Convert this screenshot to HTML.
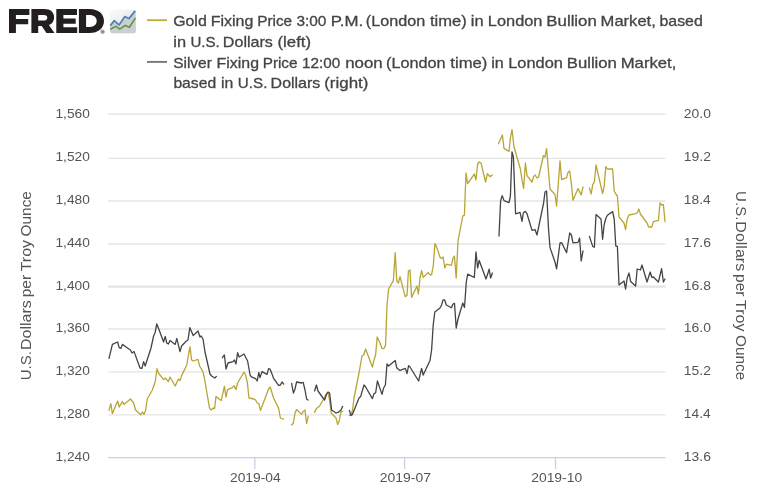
<!DOCTYPE html>
<html><head><meta charset="utf-8"><title>FRED Graph</title>
<style>
html,body{margin:0;padding:0;background:#fff;}
body{width:765px;height:497px;overflow:hidden;font-family:"Liberation Sans",sans-serif;}
svg{display:block;will-change:transform;}
svg text{font-family:"Liberation Sans",sans-serif;}
.tick{font-size:13.5px;fill:#555;}
.ttl{font-size:15px;fill:#555;}
.leg{font-size:15px;fill:#444;stroke:#444;stroke-width:0.3px;}
</style></head><body>
<svg width="765" height="497" viewBox="0 0 765 497">
<defs>
<linearGradient id="ig" x1="0" y1="0" x2="1" y2="1"><stop offset="0" stop-color="#fbfbfb"/><stop offset="0.6" stop-color="#e9e9ec"/><stop offset="1" stop-color="#d6d7dc"/></linearGradient>
</defs>
<rect width="765" height="497" fill="#fff"/>

<line x1="108.2" x2="665.5" y1="114.0" y2="114.0" stroke="#e4e4e4" stroke-width="1.7"/>
<line x1="108.2" x2="665.5" y1="158.3" y2="158.3" stroke="#e4e4e4" stroke-width="1.3"/>
<line x1="108.2" x2="665.5" y1="201.0" y2="201.0" stroke="#e4e4e4" stroke-width="1.5"/>
<line x1="108.2" x2="665.5" y1="244.0" y2="244.0" stroke="#e4e4e4" stroke-width="1.5"/>
<line x1="108.2" x2="665.5" y1="286.55" y2="286.55" stroke="#e4e4e4" stroke-width="2.2"/>
<line x1="108.2" x2="665.5" y1="329.0" y2="329.0" stroke="#e4e4e4" stroke-width="1.6"/>
<line x1="108.2" x2="665.5" y1="371.9" y2="371.9" stroke="#e4e4e4" stroke-width="1.35"/>
<line x1="108.2" x2="665.5" y1="414.9" y2="414.9" stroke="#e4e4e4" stroke-width="1.35"/>
<line x1="108.2" x2="665.5" y1="457.6" y2="457.6" stroke="#c6d2ea" stroke-width="1.3"/>
<line x1="254.8" x2="254.8" y1="457.6" y2="469" stroke="#c6d2ea" stroke-width="1.3"/>
<line x1="404.6" x2="404.6" y1="457.6" y2="469" stroke="#c6d2ea" stroke-width="1.3"/>
<line x1="555.5" x2="555.5" y1="457.6" y2="469" stroke="#c6d2ea" stroke-width="1.3"/>
<text class="tick" x="55.48" y="118.3" textLength="34.37" lengthAdjust="spacingAndGlyphs">1,560</text>
<text class="tick" x="683.89" y="118.3" textLength="27.06" lengthAdjust="spacingAndGlyphs">20.0</text>
<text class="tick" x="55.48" y="161.1" textLength="34.37" lengthAdjust="spacingAndGlyphs">1,520</text>
<text class="tick" x="683.87" y="161.1" textLength="27.08" lengthAdjust="spacingAndGlyphs">19.2</text>
<text class="tick" x="55.48" y="203.9" textLength="34.37" lengthAdjust="spacingAndGlyphs">1,480</text>
<text class="tick" x="683.88" y="203.9" textLength="26.81" lengthAdjust="spacingAndGlyphs">18.4</text>
<text class="tick" x="55.48" y="246.7" textLength="34.37" lengthAdjust="spacingAndGlyphs">1,440</text>
<text class="tick" x="683.87" y="246.7" textLength="27.08" lengthAdjust="spacingAndGlyphs">17.6</text>
<text class="tick" x="55.48" y="289.5" textLength="34.37" lengthAdjust="spacingAndGlyphs">1,400</text>
<text class="tick" x="683.87" y="289.5" textLength="27.08" lengthAdjust="spacingAndGlyphs">16.8</text>
<text class="tick" x="55.48" y="332.3" textLength="34.37" lengthAdjust="spacingAndGlyphs">1,360</text>
<text class="tick" x="683.87" y="332.3" textLength="27.08" lengthAdjust="spacingAndGlyphs">16.0</text>
<text class="tick" x="55.48" y="375.1" textLength="34.37" lengthAdjust="spacingAndGlyphs">1,320</text>
<text class="tick" x="683.87" y="375.1" textLength="27.08" lengthAdjust="spacingAndGlyphs">15.2</text>
<text class="tick" x="55.48" y="417.9" textLength="34.37" lengthAdjust="spacingAndGlyphs">1,280</text>
<text class="tick" x="683.88" y="417.9" textLength="26.81" lengthAdjust="spacingAndGlyphs">14.4</text>
<text class="tick" x="55.48" y="460.7" textLength="34.37" lengthAdjust="spacingAndGlyphs">1,240</text>
<text class="tick" x="683.87" y="460.7" textLength="27.08" lengthAdjust="spacingAndGlyphs">13.6</text>
<text class="tick" x="229.99" y="481.6" textLength="50.72" lengthAdjust="spacingAndGlyphs">2019-04</text>
<text class="tick" x="379.88" y="481.6" textLength="51.08" lengthAdjust="spacingAndGlyphs">2019-07</text>
<text class="tick" x="531.19" y="481.6" textLength="50.98" lengthAdjust="spacingAndGlyphs">2019-10</text>
<g transform="translate(30.6 379.4) rotate(-90)"><text class="ttl" x="-0.90" y="0" textLength="29.24" lengthAdjust="spacingAndGlyphs">U.S.</text><text class="ttl" x="29.37" y="0" textLength="49.80" lengthAdjust="spacingAndGlyphs">Dollars</text><text class="ttl" x="82.07" y="0" textLength="22.43" lengthAdjust="spacingAndGlyphs">per</text><text class="ttl" x="108.14" y="0" textLength="31.22" lengthAdjust="spacingAndGlyphs">Troy</text><text class="ttl" x="143.03" y="0" textLength="45.29" lengthAdjust="spacingAndGlyphs">Ounce</text></g>
<g transform="translate(735.8 192) rotate(90)"><text class="ttl" x="-0.90" y="0" textLength="29.24" lengthAdjust="spacingAndGlyphs">U.S.</text><text class="ttl" x="29.37" y="0" textLength="49.80" lengthAdjust="spacingAndGlyphs">Dollars</text><text class="ttl" x="82.07" y="0" textLength="22.43" lengthAdjust="spacingAndGlyphs">per</text><text class="ttl" x="108.14" y="0" textLength="31.22" lengthAdjust="spacingAndGlyphs">Troy</text><text class="ttl" x="143.03" y="0" textLength="45.29" lengthAdjust="spacingAndGlyphs">Ounce</text></g>
<path d="M109 410.4 L110.8 403.6 L112.4 413.6 L117.6 401 L119.2 407 L122.4 401.6 L124 404.4 L130.4 399 L133.6 403 L135.6 410 L140.8 414.8 L142.4 412 L144 414.4 L145.6 410.4 L147.2 399 L152.4 390 L154 385 L155.4 381 L157 368.6 L158.4 373 L163.6 379.6 L165.2 378 L168.4 381.6 L170 377 L175.2 386 L178.4 379 L180 380.6 L181.6 375.6 L186.8 365 L188.4 355 L190 347 L191.6 360 L193.2 361 L198 359.4 L199.6 366 L203 372 L204.4 378 L209.6 408.4 L211.2 410 L213.2 408 L214.6 408.6 L216 396.4 L221.2 400.6 L224.4 386.4 L226 397 L227.6 389.6 L232.4 387.6 L234 385.6 L236 389.6 L237.6 383 L244 372 L245.6 375 L247.4 383 L249 398 L254 399 L255.6 400 L257.2 403 L258.8 403.6 L260.4 410.4 L268.6 389 L270.2 387 L273.6 398 L278.6 408.4 L280.4 418 L283.6 419 M291.6 425 L293.4 423 L295 413 L296.6 409.6 L301.6 414.4 L303.2 411.4 L305 410 L306.6 423.6 L308.2 416.4 M314.6 412.4 L316.4 408.6 L319.6 406 L323 400 L326.2 394 L328 392.4 L329.6 400 L331.2 413 L336 418 L337.6 424.4 L339.2 421 L341 411.6 L342.6 411.4 M349.4 415.4 L351 415 L352.6 410 L354 398 L359 373 L362 356 L363.6 355 L365.6 349 L372.4 367 L374 360 L375.6 355 L377.2 337 L380 343 L382 348.4 L384 348.6 L385.6 345 L387 305 L388.6 289 L393.4 280.6 L395.2 252.6 L396.8 281 L398.4 283 L400 276.6 L405.2 296.6 L407 295.4 L408.4 271 L410 270 L411.6 297.4 L417 286 L418.4 294 L420 278 L421.6 270.6 L423.2 277.4 L428.4 272.5 L430 275 L431.6 274.6 L433.3 265.5 L434.9 243.6 L436.4 246.4 L440.2 257.5 L441.6 258.4 L443.1 257 L444.8 268 L446.4 264.2 L451.4 265.4 L453 258 L454.4 256 L456.2 278 L458 241 L462.8 216 L464.4 215.2 L466 173 L467.6 183.6 L474.4 174 L476 180 L477.6 164 L479.2 162 L481 163 L485.6 182 L487.4 173.6 L489 175.6 L490.4 176.6 L492.4 175 M498.6 143.6 L502.4 135 L504 148.4 L509 151.4 L510.4 138 L512 129.6 L514 147 L520.4 169 L522 180 L523.6 188.4 L525.4 163 L527 175.6 L532 182 L533.6 176.6 L535.2 175 L537 178 L538.6 177 L543.4 155.6 L545 157 L546.6 148.6 L550 189 L555 194.5 L556.6 206.2 L560 160.8 L561.6 179.6 L566.6 177.6 L568 172.4 L569.7 171 L571.4 184 L573 200.2 L578 188.6 L581.2 195 L583 187 M589.4 188 L591.2 194 L592.8 184.4 L594.4 182 L596 165 L602.6 193.6 L604.2 186 L605.8 166.6 L607.4 169 L612.6 169 L614.2 191 L615.8 194 L617.4 196 L619 217 L624 223 L625.6 229.6 L627.2 219 L629 215 L635.6 213.6 L637.2 213 L638.8 209 L640.4 214 L647 223 L648.6 227 L651.8 227 L653.4 221.6 L658.4 220.4 L660 203 L661.6 205 L663.4 204.6 L665 221.6" fill="none" stroke="#b8a535" stroke-width="1.3" stroke-linejoin="round" stroke-linecap="round"/>
<path d="M109 358.4 L112.4 344.4 L117.6 342 L119.2 347.6 L120.8 348.4 L122.4 344.4 L126 347 L130.4 350 L132 353 L134 351.4 L140 368 L142 368.4 L143.6 361.6 L145.2 366 L151 348 L153.6 336 L155 333 L156.8 324 L158.4 328 L163.6 342 L165.2 336.4 L166.8 343 L168.4 344 L170 340.4 L175.2 344.4 L176.8 338.4 L180 351.6 L181.6 346 L186.4 341 L188 340 L189.8 327.6 L193.2 335.6 L198 331 L200 337 L201.2 336 L203 339 L205 352 L210 374 L211.6 376 L214.8 378 L216.4 376.4 M222.4 357.6 L224.4 355 L226 369 L228 363 L233 361.6 L234.4 360 L236 364 L237.6 352.6 L239.2 357 L244 354 L247.6 361 L250.2 375.5 L252 377.2 L255.6 378.6 L257.2 381 L258.8 372.4 L260 377.6 L262 371.6 L267 374.4 L268.6 368.6 L270 369 L272 374 L273.6 378.4 L278.6 385.4 L280.4 385 L282 382 L283.6 384 M291.6 383.4 L293.4 393 L295 389 L296.6 382 L301.6 383 L303.2 382.4 L305 390 L306.6 399 L308 400 M314.6 391 L316.4 385 L318 391 L323 398 L324.6 400 L326.6 394 L328 392 L329.6 393 L331.6 410 L336 413 L338 412.4 L341 410 L342.6 406.4 M349.4 410.4 L351 415.6 L352.4 414.4 L359 398 L360.6 396.6 L364 385 L365.6 387 L372.4 398.6 L374 393.6 L375.6 393 L377.4 381 L382 394.4 L383.6 388 L385.4 385 L387 364 L388.6 366 L395.2 360.4 L396.8 368 L400 370.4 L405.4 368.4 L407 373.6 L408.6 365.6 L410 367 L418.6 381 L421.6 368.4 L423.2 375 L430 360.4 L431.6 350 L433.2 325 L434.8 312 L440 308 L441.6 305 L443 299.8 L444.6 299.8 L446.3 305 L451.4 307.8 L453 304 L454.5 303.2 L456.2 328 L458 319 L462.8 303 L464.5 307.5 L466.3 282 L467.7 274.2 L474.3 277.5 L476 252 L477.6 268 L479.2 260.5 L486 279 L489.2 269.2 L490.6 278 L492.4 273 M499 236 L500.6 201 L502.2 195.6 L504 200.6 L509 202.6 L510.4 196 L512 152 L513.4 157 L515.6 213.8 L520 212.3 L522 221.4 L523.4 212.7 L525.4 211.4 L527 213.8 L532 230.4 L535 229.6 L537 235 L543.6 203 L545 192 L546.6 191 L548.4 227 L550 247.6 L555 262 L556.6 268.8 L560 243 L561.6 242.6 L566.6 252.7 L569.7 233 L571.4 235 L573 242.8 L578 242.4 L579.6 238 L581.2 261 L583 251 M589.4 236.4 L592.8 246.6 L594.4 247 L596 214.6 L601 219 L602.6 239.3 L604.2 224.5 L605.8 218.5 L607.4 215.3 L612.6 211.6 L614.2 219 L615.8 246 L617.4 246.4 L619 285 L624 281 L625.6 289 L627.2 278 L629 273 L630.6 281.4 L635.6 286 L637.2 269 L640.4 270 L642 265 L647 282 L650.2 272 L651.8 277.4 L653.4 277 L658.4 282 L661.6 268.6 L663.4 282 L665 279" fill="none" stroke="#444" stroke-width="1.3" stroke-linejoin="round" stroke-linecap="round"/>
<line x1="147" x2="167" y1="20.2" y2="20.2" stroke="#bdaa3c" stroke-width="1.8"/>
<line x1="147" x2="167" y1="61.9" y2="61.9" stroke="#777" stroke-width="1.9"/>
<text class="leg" x="173.17" y="26.1" textLength="33.56" lengthAdjust="spacingAndGlyphs">Gold</text><text class="leg" x="210.74" y="26.1" textLength="42.58" lengthAdjust="spacingAndGlyphs">Fixing</text><text class="leg" x="257.18" y="26.1" textLength="34.97" lengthAdjust="spacingAndGlyphs">Price</text><text class="leg" x="296.44" y="26.1" textLength="30.02" lengthAdjust="spacingAndGlyphs">3:00</text><text class="leg" x="330.68" y="26.1" textLength="32.42" lengthAdjust="spacingAndGlyphs">P.M.</text><text class="leg" x="365.89" y="26.1" textLength="59.39" lengthAdjust="spacingAndGlyphs">(London</text><text class="leg" x="429.90" y="26.1" textLength="36.83" lengthAdjust="spacingAndGlyphs">time)</text><text class="leg" x="470.88" y="26.1" textLength="12.77" lengthAdjust="spacingAndGlyphs">in</text><text class="leg" x="487.81" y="26.1" textLength="54.68" lengthAdjust="spacingAndGlyphs">London</text><text class="leg" x="546.38" y="26.1" textLength="50.39" lengthAdjust="spacingAndGlyphs">Bullion</text><text class="leg" x="600.60" y="26.1" textLength="55.20" lengthAdjust="spacingAndGlyphs">Market,</text><text class="leg" x="659.51" y="26.1" textLength="43.22" lengthAdjust="spacingAndGlyphs">based</text>
<text class="leg" x="173.38" y="46.8" textLength="12.77" lengthAdjust="spacingAndGlyphs">in</text><text class="leg" x="190.40" y="46.8" textLength="29.30" lengthAdjust="spacingAndGlyphs">U.S.</text><text class="leg" x="222.83" y="46.8" textLength="50.04" lengthAdjust="spacingAndGlyphs">Dollars</text><text class="leg" x="277.56" y="46.8" textLength="33.47" lengthAdjust="spacingAndGlyphs">(left)</text>
<text class="leg" x="173.19" y="67.7" textLength="38.63" lengthAdjust="spacingAndGlyphs">Silver</text><text class="leg" x="216.64" y="67.7" textLength="42.37" lengthAdjust="spacingAndGlyphs">Fixing</text><text class="leg" x="262.68" y="67.7" textLength="34.87" lengthAdjust="spacingAndGlyphs">Price</text><text class="leg" x="301.98" y="67.7" textLength="38.22" lengthAdjust="spacingAndGlyphs">12:00</text><text class="leg" x="345.16" y="67.7" textLength="37.53" lengthAdjust="spacingAndGlyphs">noon</text><text class="leg" x="385.99" y="67.7" textLength="59.69" lengthAdjust="spacingAndGlyphs">(London</text><text class="leg" x="450.30" y="67.7" textLength="37.04" lengthAdjust="spacingAndGlyphs">time)</text><text class="leg" x="491.30" y="67.7" textLength="12.54" lengthAdjust="spacingAndGlyphs">in</text><text class="leg" x="508.21" y="67.7" textLength="54.68" lengthAdjust="spacingAndGlyphs">London</text><text class="leg" x="566.79" y="67.7" textLength="50.08" lengthAdjust="spacingAndGlyphs">Bullion</text><text class="leg" x="620.69" y="67.7" textLength="55.72" lengthAdjust="spacingAndGlyphs">Market,</text>
<text class="leg" x="173.42" y="88.3" textLength="42.70" lengthAdjust="spacingAndGlyphs">based</text><text class="leg" x="221.11" y="88.3" textLength="12.31" lengthAdjust="spacingAndGlyphs">in</text><text class="leg" x="237.89" y="88.3" textLength="29.51" lengthAdjust="spacingAndGlyphs">U.S.</text><text class="leg" x="270.64" y="88.3" textLength="49.63" lengthAdjust="spacingAndGlyphs">Dollars</text><text class="leg" x="324.26" y="88.3" textLength="44.10" lengthAdjust="spacingAndGlyphs">(right)</text>
<g fill="#231f20">
<path d="M9 9H29.4V15.1H15.9V18.9H28.2V24.3H15.9V33H9Z"/>
<path fill-rule="evenodd" d="M31.4 9H44.5C50.5 9 54.1 12.2 54.1 17.4C54.1 21.2 52.1 23.8 48.9 25.1L54.5 33H46.4L41.7 26.1H38.2V33H31.4ZM38.2 14.9V20.6H43.9C46 20.6 47.3 19.5 47.3 17.7C47.3 15.9 46 14.9 43.9 14.9Z"/>
<path d="M56.3 9H77V14.9H63.4V18.4H75.7V23.7H63.4V27.2H77.2V33H56.3Z"/>
<path fill-rule="evenodd" d="M78.9 9H89.5C98.5 9 104 14 104 20.9C104 27.9 98.4 33 89.4 33H78.9ZM86.1 15.1V26.9H89.6C93.8 26.9 96.7 24.6 96.7 21C96.7 17.4 93.8 15.1 89.6 15.1Z"/>
</g>
<circle cx="102.6" cy="31.7" r="2.3" fill="#adadad"/><circle cx="102.6" cy="31.7" r="1" fill="#7a7a7a"/>
<rect x="109.8" y="9.5" width="26.2" height="23.7" rx="2.5" fill="url(#ig)"/>
<path d="M110.1 25.7L114.3 20.6L119 24.9L124.9 16.6L128.9 18.6L135.6 10.6V31.2Q135.6 33.2 133.6 33.2H112.2Q110.1 33.2 110.1 31.2Z" fill="#cdced5"/>
<path d="M110.3 25.6L114.3 20.6L119 24.9L124.9 16.6L128.9 18.6L135.2 10.9" fill="none" stroke="#4c84b2" stroke-width="1.7" stroke-linejoin="round"/>
<path d="M110.3 29.2L115.8 26.4L119.8 29.2L125.2 25.4L129.4 27.2L135.4 17.9" fill="none" stroke="#5b9a3b" stroke-width="1.6" stroke-linejoin="round"/>

</svg>
</body></html>
